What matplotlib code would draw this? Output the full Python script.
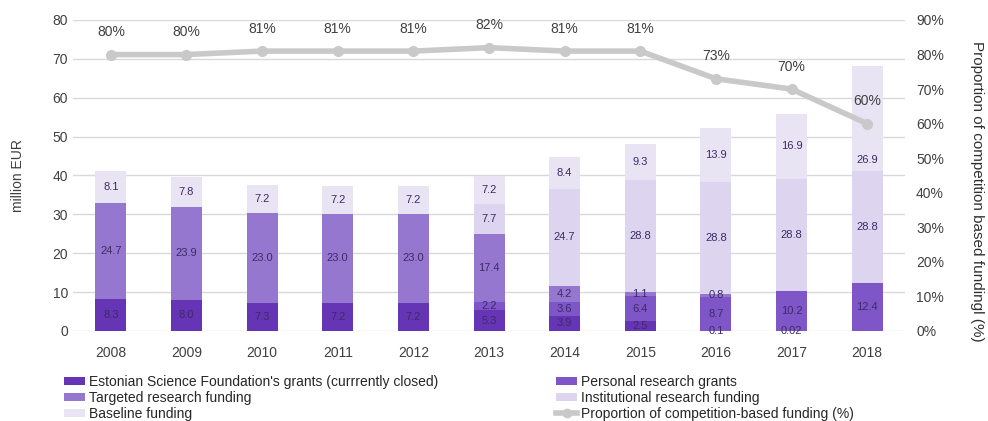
import matplotlib
matplotlib.use("Agg")
import matplotlib.pyplot as plt
import numpy as np
from matplotlib.patches import Patch
from matplotlib.lines import Line2D

years = ["2008", "2009", "2010", "2011", "2012", "2013", "2014", "2015", "2016", "2017", "2018"]
esf = [8.3, 8.0, 7.3, 7.2, 7.2, 5.3, 3.9, 2.5, 0.1, 0.02, 0.0]
personal = [0, 0, 0, 0, 0, 2.2, 3.6, 6.4, 8.7, 10.2, 12.4]
targeted = [24.7, 23.9, 23.0, 23.0, 23.0, 17.4, 4.2, 1.1, 0.8, 0, 0]
institutional = [0, 0, 0, 0, 0, 7.7, 24.7, 28.8, 28.8, 28.8, 28.8]
baseline = [8.1, 7.8, 7.2, 7.2, 7.2, 7.2, 8.4, 9.3, 13.9, 16.9, 26.9]
proportion = [80, 80, 81, 81, 81, 82, 81, 81, 73, 70, 60]

series_names = ["Estonian Science Foundation's grants (currrently closed)",
                "Personal research grants",
                "Targeted research funding",
                "Institutional research funding",
                "Baseline funding"]
line_name = "Proportion of competition-based funding (%)"
colors = ["#6535b5", "#7f56c8", "#9677d0", "#ddd5ef", "#e9e4f4"]
line_color = "#c9c9c9"
label_color = "#3b2b66"

plt.rcParams['font.family'] = ['Liberation Sans', 'DejaVu Sans']

fig = plt.figure(figsize=(9.88, 4.21), dpi=100)
ax = fig.add_axes([0.0739, 0.2138, 0.8421, 0.7387])
ax2 = ax.twinx()

x = np.arange(len(years))
width = 0.41
bottom = np.zeros(len(years))
data = [esf, personal, targeted, institutional, baseline]
n = len(years)
for si, (vals, col) in enumerate(zip(data, colors)):
    vals = np.array(vals, dtype=float)
    ax.bar(x, vals, width, bottom=bottom, color=col, zorder=2)
    for xi, v, b in zip(x, vals, bottom):
        if v > 0:
            txt = ("%.2f" % v) if v < 0.05 else ("%.1f" % v)
            # last baseline label sits low in its segment to stay clear of the line
            frac = 0.1 if (si == 4 and xi == n - 1) else 0.5
            ax.text(xi, b + v * frac, txt, ha='center', va='center', fontsize=8,
                    color=label_color, zorder=3)
    bottom += vals

ax.set_xlim(-0.5, n - 0.5)
ax.set_ylim(0, 80)
ax.set_yticks(range(0, 81, 10))
ax.set_xticks(x)
ax.set_xticklabels(years)
ax.grid(axis='y', color='#d9d9d9', linewidth=1, zorder=0)
ax.set_axisbelow(True)
for s in ax.spines.values():
    s.set_visible(False)
for s in ax2.spines.values():
    s.set_visible(False)
ax.tick_params(axis='both', length=0, labelsize=10, colors='#404040')
ax.tick_params(axis='x', pad=11)
ax.set_ylabel("million EUR", fontsize=10, color='#404040', labelpad=20)

ax2.set_ylim(0, 90)
ax2.set_yticks(range(0, 91, 10))
ax2.set_yticklabels(["%d%%" % v for v in range(0, 91, 10)])
ax2.tick_params(axis='y', length=0, labelsize=10, colors='#404040', pad=8)
ax2.plot(x, proportion, color=line_color, linewidth=4, marker='o', markersize=7, zorder=5)
for xi, p in zip(x, proportion):
    ax2.annotate("%d%%" % p, (xi, p), xytext=(0, 11), textcoords='offset points',
                 ha='center', va='bottom', fontsize=10, color='#404040')
ax2.set_ylabel("Proportion of competition based fundingl (%)", rotation=270,
               fontsize=11, color='#303030')
ax2.yaxis.set_label_coords(1.095, 0.45)

h = [Patch(facecolor=c) for c in colors]
lh = Line2D([0], [0], color=line_color, linewidth=4, marker='o', markersize=6)
leg_kw = dict(frameon=False, fontsize=10, handlelength=1.5, handleheight=0.5,
              labelspacing=0.12, handletextpad=0.3, borderpad=0, labelcolor='#262626')
fig.legend([h[0], h[2], h[4]], [series_names[0], series_names[2], series_names[4]],
           loc='upper left', bbox_to_anchor=(0.058, 0.125), **leg_kw)
fig.legend([h[1], h[3], lh], [series_names[1], series_names[3], line_name],
           loc='upper left', bbox_to_anchor=(0.556, 0.125), **leg_kw)

fig.savefig("out.png", dpi=100)
